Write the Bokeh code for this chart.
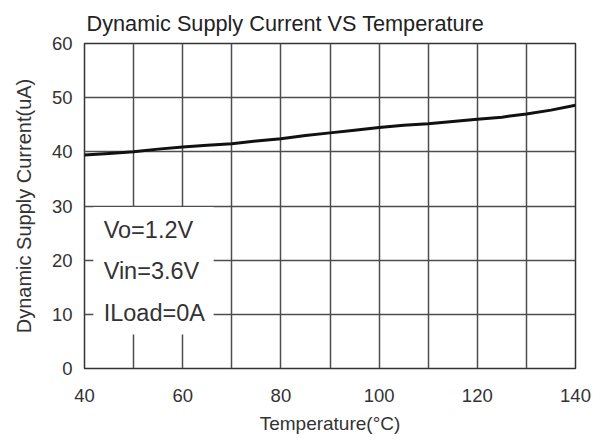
from bokeh.plotting import figure
from bokeh.models import Range1d, FixedTicker, BoxAnnotation, Label
from bokeh.embed import file_html
from bokeh.resources import INLINE

# Data
temperature = [40, 45, 50, 55, 60, 65, 70, 75, 80, 85, 90, 95, 100, 105, 110, 115, 120, 125, 130, 135, 140]
current_ua = [39.4, 39.7, 40.0, 40.5, 40.9, 41.2, 41.5, 42.0, 42.4, 43.0, 43.5, 44.0, 44.5, 44.9,
              45.2, 45.6, 46.0, 46.4, 47.0, 47.7, 48.6]
x_ticks = [40, 60, 80, 100, 120, 140]
y_ticks = [0, 10, 20, 30, 40, 50, 60]
x_grid = [50, 60, 70, 80, 90, 100, 110, 120, 130]
y_grid = [10, 20, 30, 40, 50]
notes = ["Vo=1.2V", "Vin=3.6V", "ILoad=0A"]
note_y = [25.6, 18.0, 10.3]

FONT = "Liberation Sans"
GRID = "#4d4d4d"
TXT = "#333333"

p = figure(width=598, height=436, output_backend="svg", toolbar_location=None,
           x_range=Range1d(40, 140), y_range=Range1d(0, 60),
           min_border_left=84, min_border_right=23, min_border_top=43, min_border_bottom=67,
           title="Dynamic Supply Current VS Temperature")

p.title.text_font = FONT
p.title.text_font_size = "21.7px"
p.title.text_font_style = "normal"
p.title.text_color = "#222222"
p.title.align = "left"
p.title.offset = 2
p.title.standoff = 16

p.background_fill_color = "white"
p.border_fill_color = "white"
p.outline_line_color = "#333333"
p.outline_line_width = 1.5

for ax in (p.xaxis[0], p.yaxis[0]):
    ax.axis_line_color = None
    ax.major_tick_line_color = None
    ax.minor_tick_line_color = None
    ax.major_tick_out = 0
    ax.major_tick_in = 0
    ax.minor_tick_out = 0
    ax.major_label_text_font = FONT
    ax.major_label_text_font_size = "18.5px"
    ax.major_label_text_color = TXT
    ax.axis_label_text_font = FONT
    ax.axis_label_text_font_style = "normal"
    ax.axis_label_text_color = TXT

p.xaxis.axis_label_text_font_size = "19px"
p.yaxis.axis_label_text_font_size = "20px"
p.xaxis.ticker = FixedTicker(ticks=x_ticks)
p.yaxis.ticker = FixedTicker(ticks=y_ticks)
p.xaxis.axis_label = "Temperature(°C)"
p.yaxis.axis_label = "Dynamic Supply Current(uA)"
p.xaxis.major_label_standoff = 20
p.xaxis.axis_label_standoff = 8
p.yaxis.major_label_standoff = 12
p.yaxis.axis_label_standoff = 14

p.xgrid.ticker = FixedTicker(ticks=x_grid)
p.ygrid.ticker = FixedTicker(ticks=y_grid)
for g in (p.xgrid[0], p.ygrid[0]):
    g.grid_line_color = GRID
    g.grid_line_width = 1.5

p.line(temperature, current_ua, line_color="#111111", line_width=3)

p.add_layout(BoxAnnotation(left=41.8, right=66.3, bottom=6.3, top=29.8,
                           fill_color="white", fill_alpha=1.0, line_color=None))
for t, yv in zip(notes, note_y):
    p.add_layout(Label(x=43.9, y=yv, text=t, text_font=FONT, text_font_size="23.5px",
                       text_color=TXT, text_baseline="middle"))

open("out.html", "w").write(file_html(p, INLINE))
